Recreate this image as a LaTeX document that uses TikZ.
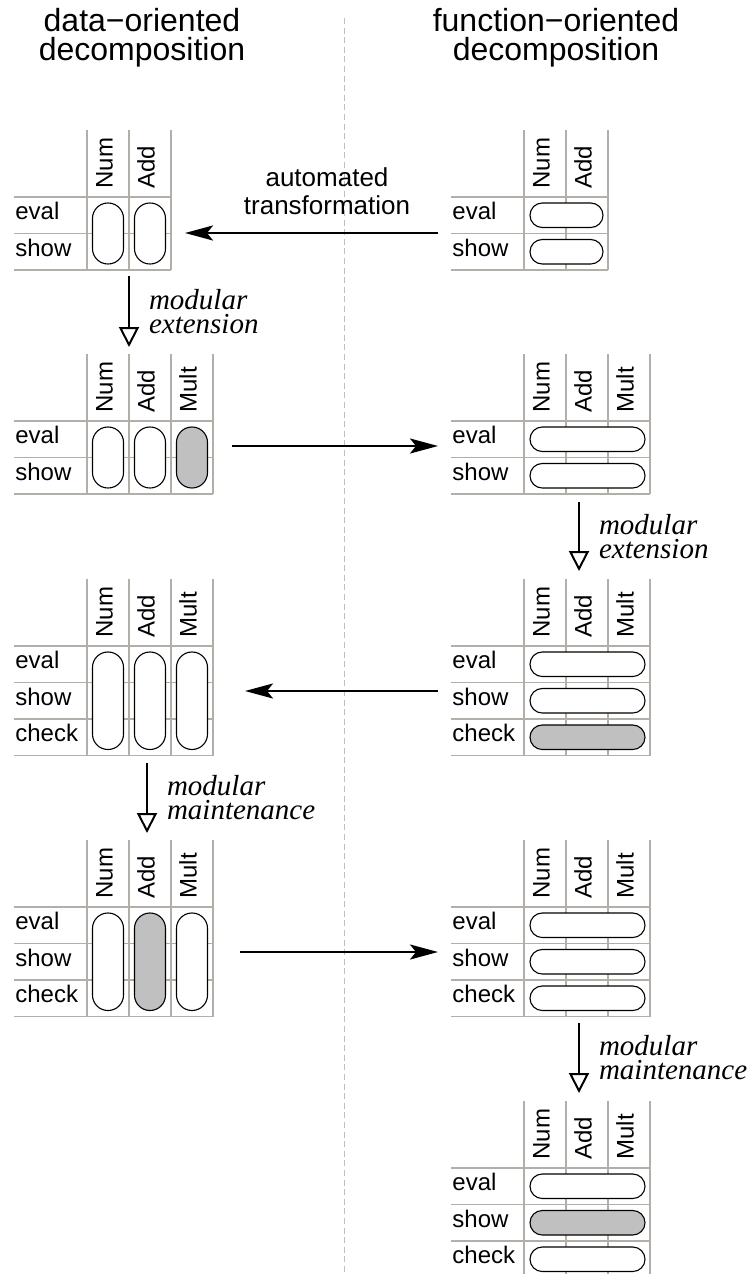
\documentclass[tikz,border=0pt]{standalone}
\usepackage{fontspec}
\setmainfont{Liberation Serif}
\setsansfont{Liberation Sans}
\usetikzlibrary{arrows.meta}

\definecolor{gridgray}{RGB}{180,174,168}
\definecolor{pillgray}{RGB}{192,192,192}
\definecolor{sepgray}{RGB}{190,190,190}

% grid of one table: name, number of columns, number of rows
\newcommand{\opgrid}[3]{%
  \foreach \colname/\i in {Num/1,Add/2,Mult/3}{
    \ifnum\i>#2\relax\else
      \node[colhead] (#1-\colname) at (52+42*\i, -8) {\colname};
    \fi}
  \foreach \rowname/\j in {eval/1,show/2,check/3}{
    \ifnum\j>#3\relax\else
      \node[rowhead] (#1-\rowname) at (1, 36.5*\j-18.25) {\rowname};
    \fi}
  \foreach \i in {0,...,#2}
    \draw[gridline] (73+42*\i, -67) -- (73+42*\i, 36.5*#3);
  \foreach \j in {0,...,#3}
    \draw[gridline] (0, 36.5*\j) -- (73+42*#2, 36.5*\j);
}
% upright pills (one per column): columns, rows, shaded column
\newcommand{\datapills}[3]{%
  \foreach \i in {1,...,#1}{
    \ifnum\i=#3\relax
      \draw[pill, fill=pillgray, rounded corners=7.7pt] (42*\i+36.5, 6) rectangle ++(31, 36.5*#2-12);
    \else
      \draw[pill, rounded corners=7.7pt] (42*\i+36.5, 6) rectangle ++(31, 36.5*#2-12);
    \fi}
}
% lying pills (one per row): columns, rows, shaded row
\newcommand{\funcpills}[3]{%
  \foreach \j in {1,...,#2}{
    \ifnum\j=#3\relax
      \draw[pill, fill=pillgray, rounded corners=6.1pt] (79, 36.5*\j-30.5) rectangle ++(42*#1-11, 24.5);
    \else
      \draw[pill, rounded corners=6.1pt] (79, 36.5*\j-30.5) rectangle ++(42*#1-11, 24.5);
    \fi}
}

\begin{document}
\begin{tikzpicture}[x=0.5pt, y=-0.5pt,
    gridline/.style={draw=gridgray, line width=0.6pt},
    pill/.style={draw=black, fill=white, line width=0.55pt},
    colhead/.style={rotate=90, anchor=mid west, inner sep=0pt, font=\sffamily\fontsize{12}{14}\selectfont},
    rowhead/.style={anchor=mid west, inner sep=0pt, font=\sffamily\fontsize{12}{14}\selectfont},
    title/.style={anchor=north, inner sep=0pt, align=center, font=\sffamily\fontsize{16}{14.5}\selectfont},
    note/.style={inner sep=0pt, align=center, font=\sffamily\fontsize{13}{14}\selectfont},
    modnote/.style={right, xshift=9.5pt, inner sep=0pt, align=left, font=\itshape\fontsize{14.5}{12}\selectfont},
    flow/.style={-{Stealth[length=14pt, width=7.5pt, inset=3pt]}, line width=1.2pt},
    modarrow/.style={-{Triangle[open, length=10pt, width=10pt]}, line width=1pt},
    sep/.style={draw=sepgray, line width=0.5pt, dash pattern=on 3pt off 1.8pt}
  ]
  \useasboundingbox (0,0) rectangle (754,1274);

  \draw[sep] (344,18) -- (344,1274);

  \node[title] (dtitle) at (142,8) {data−oriented\\decomposition};
  \node[title] (ftitle) at (556,8) {function−oriented\\decomposition};

  % data-oriented side
  \begin{scope}[shift={(14,197)}]
    \opgrid{d1}{2}{2}
    \datapills{2}{2}{0}
  \end{scope}
  \begin{scope}[shift={(14,421)}]
    \opgrid{d2}{3}{2}
    \datapills{3}{2}{3}
  \end{scope}
  \begin{scope}[shift={(14,646)}]
    \opgrid{d3}{3}{3}
    \datapills{3}{3}{0}
  \end{scope}
  \begin{scope}[shift={(14,907)}]
    \opgrid{d4}{3}{3}
    \datapills{3}{3}{2}
  \end{scope}

  % function-oriented side
  \begin{scope}[shift={(451,197)}]
    \opgrid{f1}{2}{2}
    \funcpills{2}{2}{0}
  \end{scope}
  \begin{scope}[shift={(451,421)}]
    \opgrid{f2}{3}{2}
    \funcpills{3}{2}{0}
  \end{scope}
  \begin{scope}[shift={(451,646)}]
    \opgrid{f3}{3}{3}
    \funcpills{3}{3}{3}
  \end{scope}
  \begin{scope}[shift={(451,907)}]
    \opgrid{f4}{3}{3}
    \funcpills{3}{3}{0}
  \end{scope}
  \begin{scope}[shift={(451,1168)}]
    \opgrid{f5}{3}{3}
    \funcpills{3}{3}{2}
  \end{scope}

  % transformations between the two sides
  \coordinate (h1s) at (438,233);
  \coordinate (h1e) at (185,233);
  \coordinate (h2s) at (232,446);
  \coordinate (h2e) at (438,446);
  \coordinate (h3s) at (438,691);
  \coordinate (h3e) at (245,691);
  \coordinate (h4s) at (240,952);
  \coordinate (h4e) at (438,952);
  \draw[flow] (h1s) -- (h1e);
  \draw[flow] (h2s) -- (h2e);
  \draw[flow] (h3s) -- (h3e);
  \draw[flow] (h4s) -- (h4e);
  \node[note] (auto) at (327,191) {automated\\transformation};

  % modular steps
  \coordinate (m1s) at (129,276);
  \coordinate (m1e) at (129,347);
  \coordinate (m2s) at (579,502);
  \coordinate (m2e) at (579,571);
  \coordinate (m3s) at (147,763);
  \coordinate (m3e) at (147,833);
  \coordinate (m4s) at (579,1023);
  \coordinate (m4e) at (579,1093);
  \draw[modarrow] (m1s) -- node[modnote] (m1n) {modular\\extension} (m1e);
  \draw[modarrow] (m2s) -- node[modnote] (m2n) {modular\\extension} (m2e);
  \draw[modarrow] (m3s) -- node[modnote] (m3n) {modular\\maintenance} (m3e);
  \draw[modarrow] (m4s) -- node[modnote] (m4n) {modular\\maintenance} (m4e);
\end{tikzpicture}
\end{document}
